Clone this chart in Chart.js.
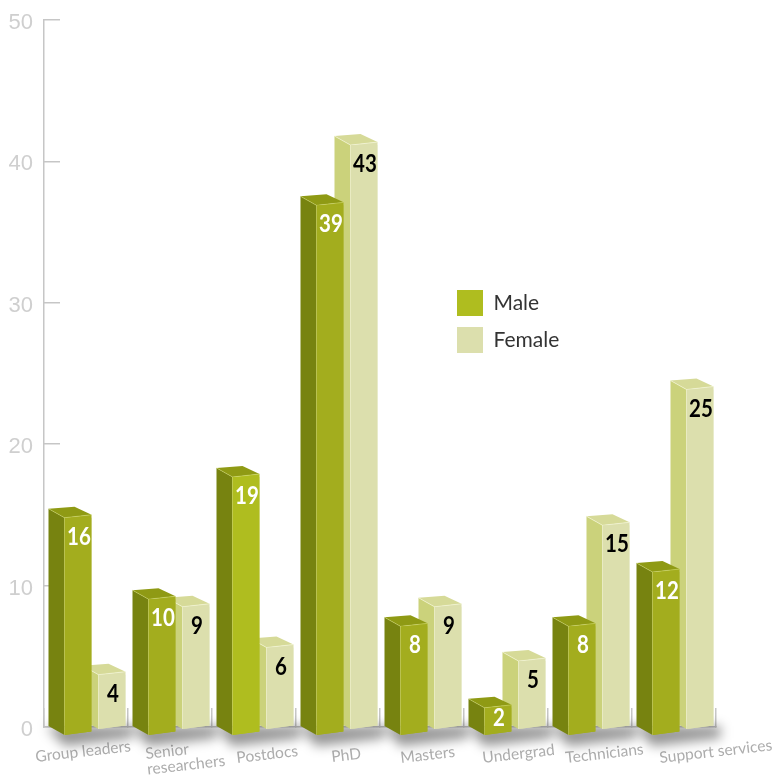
<!DOCTYPE html>
<html><head><meta charset="utf-8">
<style>html,body{margin:0;padding:0;background:#fff}canvas{display:block}</style>
<script src="https://cdn.jsdelivr.net/npm/chart.js@4"></script>
</head><body><canvas id="c" width="774" height="776"></canvas>
<script>
const categories = ['Group leaders', ['Senior','researchers'], 'Postdocs', 'PhD', 'Masters', 'Undergrad', 'Technicians', 'Support services'];
const maleValues = [16, 10, 19, 39, 8, 2, 8, 12];
const femaleValues = [4, 9, 6, 43, 9, 5, 15, 25];
const yTicks = [0, 10, 20, 30, 40, 50];
const seriesNames = ['Male', 'Female'];

const maleFront = ['#a3ad1e','#a3ad1e','#afbd1f','#a3ad1e','#a3ad1e','#a3ad1e','#a3ad1e','#a3ad1e'];
const faces = [
  {side:'#778310', top:'#8f9a14', edge:'rgba(215,225,120,.55)', text:'#ffffff'},
  {side:'#cbd27b', top:'#d6da98', edge:'rgba(245,247,215,.8)', text:'#000000'}
];
const femaleFront = '#dcdfad';
const legendColors = ['#afbd1f', '#dcdfad'];
const SIDE_X = 16, SIDE_Y = 9, SLANT = 3;
// per-label nudges of the rotated category labels relative to their ticks
const labelNudgeX = [-50,-24,-17,-6,-21,-23,-24,-14];
const labelBaseY = [762,759,763,762,763,763,763,763];
const LABEL_ANGLE = -6.5 * Math.PI / 180;

const lines = (ctx, pts) => { ctx.beginPath(); pts.forEach((p,i)=> i?ctx.lineTo(p[0],p[1]):ctx.moveTo(p[0],p[1])); ctx.closePath(); };
const frontPts = (b) => {
  const l=b.x-b.width/2, r=b.x+b.width/2;
  return [[l,b.y],[r,b.y-SLANT],[r,b.base-SLANT-0.5],[l,b.base]];
};

const bars3d = {
  id:'bars3d',
  afterLayout(chart){
    const xb = chart.scales.xBars, shift = 9;
    xb.left += shift; xb.right += shift; xb.configure();
    const xs = chart.scales.x;
    xs.getLabelItems(chart.chartArea).forEach((it,i)=>{
      it.options.translation = [xs.getPixelForTick(i)+labelNudgeX[i], labelBaseY[i]];
      it.options.rotation = LABEL_ANGLE;
      it.options.textAlign = 'left';
      it.options.textBaseline = 'alphabetic';
      it.textOffset = 0;
    });
    const ys = chart.scales.y;
    ys.getLabelItems(chart.chartArea).forEach(it=>{ it.options.translation[1] += 3; });
    const lg = chart.legend;
    lg.left = 457 - lg.options.labels.padding; lg.top = 290 - lg.options.labels.padding;
    lg.right = lg.left + 160; lg.bottom = lg.top + 100;
  },
  beforeDatasetsDraw(chart){
    const {ctx} = chart, m = chart.getDatasetMeta(0).data, f = chart.getDatasetMeta(1).data;
    ctx.save();
    ctx.filter = 'blur(6px)';
    ctx.fillStyle = 'rgba(0,0,0,.42)';
    m.forEach((b,i)=>{
      const l=b.x-b.width/2, r=f[i].x+f[i].width/2;
      lines(ctx, [[l-18,727],[l,746],[r+7,738],[r+7,726],[l,726]]);
      ctx.fill();
    });
    ctx.restore();
  },
  beforeDatasetDraw(chart,args){
    const {ctx} = chart, i = args.index, face = faces[i], els = args.meta.data;
    ctx.save();
    els.forEach((b,k)=>{
      const l=b.x-b.width/2, r=b.x+b.width/2, t=b.y, bt=b.base;
      const front = i===0 ? maleFront[k] : femaleFront;
      ctx.fillStyle = face.side;
      lines(ctx, [[l-SIDE_X,t-SIDE_Y],[l,t],[l,bt],[l-SIDE_X,bt-SIDE_Y]]); ctx.fill();
      ctx.fillStyle = face.top;
      lines(ctx, [[l-SIDE_X,t-SIDE_Y],[l,t],[r,t-SLANT],[r-SIDE_X-1,t-SIDE_Y-SLANT+1]]); ctx.fill();
      ctx.fillStyle = front;
      lines(ctx, frontPts(b)); ctx.fill();
      ctx.strokeStyle = face.edge; ctx.lineWidth = 0.8;
      ctx.beginPath(); ctx.moveTo(l-SIDE_X,t-SIDE_Y); ctx.lineTo(l,t); ctx.lineTo(r,t-SLANT);
      ctx.moveTo(l,t); ctx.lineTo(l,bt); ctx.stroke();
    });
    ctx.restore();
    // trim the library's rectangles to the slanted front faces
    ctx.save();
    ctx.beginPath();
    els.forEach(b=>{ const p=frontPts(b); p.forEach((q,n)=> n?ctx.lineTo(q[0],q[1]):ctx.moveTo(q[0],q[1])); ctx.closePath(); });
    ctx.clip();
  },
  afterDatasetDraw(chart,args){
    const {ctx} = chart, i = args.index, vals = chart.data.datasets[i].data;
    ctx.restore();
    args.meta.data.forEach((b,k)=>{
      ctx.save();
      ctx.translate(b.x+1, Math.min(b.y+19, b.base-17));
      ctx.scale(0.82, 1);
      ctx.font = '700 25px Lato';
      ctx.textAlign = 'center'; ctx.textBaseline = 'middle';
      ctx.fillStyle = faces[i].text;
      ctx.fillText(String(vals[k]), 0, 0);
      ctx.restore();
    });
  }
};

new Chart(document.getElementById('c'), {
  type:'bar',
  data:{ labels:categories, datasets:[
    {label:seriesNames[0], data:maleValues, backgroundColor:maleFront, xAxisID:'xBars', yAxisID:'yMale', base:0, clip:false, borderWidth:0, barPercentage:27/34, categoryPercentage:68/84},
    {label:seriesNames[1], data:femaleValues, backgroundColor:femaleFront, xAxisID:'xBars', yAxisID:'yFemale', base:0, clip:false, borderWidth:0, barPercentage:27/34, categoryPercentage:68/84}
  ]},
  plugins:[bars3d],
  options:{
    responsive:false, animation:false,
    layout:{padding:{top:20,right:58,left:0,bottom:0}},
    plugins:{
      tooltip:{enabled:false},
      legend:{ position:'chartArea', align:'start',
        labels:{ boxWidth:26, boxHeight:26, padding:11, color:'#333333', font:{family:'Lato',size:21,weight:'400'},
          generateLabels:()=>seriesNames.map((t,i)=>({text:t, fillStyle:legendColors[i], strokeStyle:legendColors[i], lineWidth:0, datasetIndex:i, fontColor:'#333333'})) } }
    },
    scales:{
      x:{ type:'category', labels:categories, position:'bottom', offset:true,
        grid:{offset:true, drawOnChartArea:false, tickLength:-19, color:'#c6c6c6', lineWidth:1.5},
        border:{color:'#c6c6c6', width:1.5},
        ticks:{maxRotation:0, minRotation:0, autoSkip:false, color:'#adadad', font:{family:'Lato',size:15.6,weight:'400',lineHeight:1}},
        afterFit(s){ s.height=49; s.paddingLeft=0; s.paddingRight=0; }
      },
      xBars:{ type:'category', labels:categories, display:false, offset:true },
      y:{ type:'linear', position:'left', min:0, max:50,
        afterBuildTicks(s){ s.ticks = yTicks.map(v=>({value:v})); },
        grid:{drawOnChartArea:false, tickLength:-16, color:'#c6c6c6', lineWidth:1.5},
        border:{color:'#c6c6c6', width:1.5},
        ticks:{padding:27, color:'#cfcfcf', font:{family:'"Liberation Sans"',size:22,weight:'400'}},
        afterFit(s){ s.width=44; s.paddingTop=0; s.paddingBottom=0; }
      },
      yMale:{ type:'linear', display:false, min:0.589, max:52.65 },
      yFemale:{ type:'linear', display:false, min:0.147, max:52.21 }
    }
  }
});
</script></body></html>
